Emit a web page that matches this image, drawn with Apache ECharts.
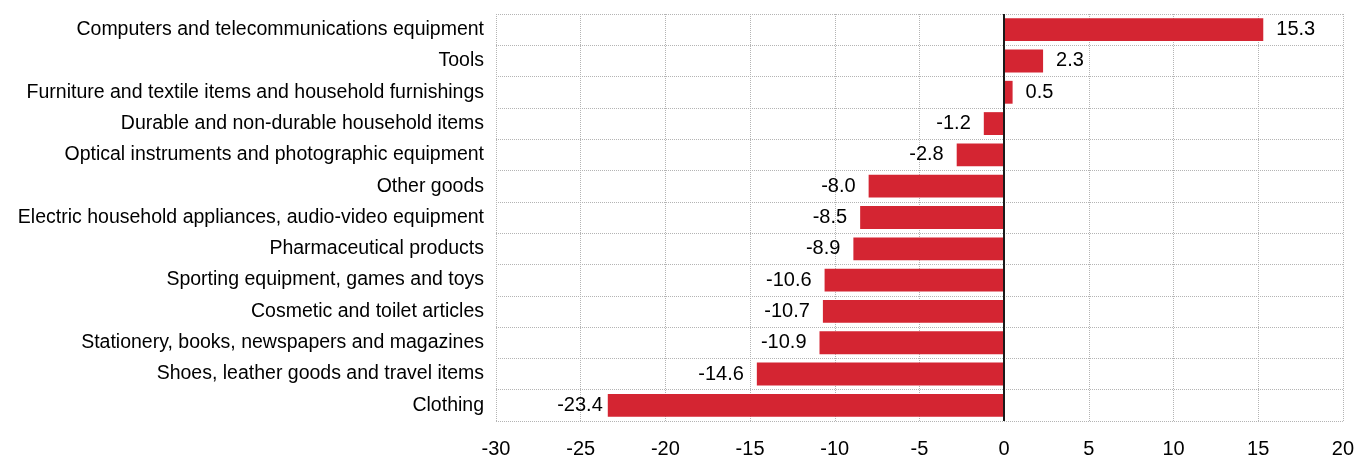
<!DOCTYPE html>
<html><head><meta charset="utf-8">
<script src="https://cdn.jsdelivr.net/npm/echarts@6/dist/echarts.min.js"></script>
<style>html,body{margin:0;padding:0;background:#fff}#c{width:1357px;height:459px}</style>
</head><body><div id="c"></div>
<script>
const categories = [
  "Computers and telecommunications equipment",
  "Tools",
  "Furniture and textile items and household furnishings",
  "Durable and non-durable household items",
  "Optical instruments and photographic equipment",
  "Other goods",
  "Electric household appliances, audio-video equipment",
  "Pharmaceutical products",
  "Sporting equipment, games and toys",
  "Cosmetic and toilet articles",
  "Stationery, books, newspapers and magazines",
  "Shoes, leather goods and travel items",
  "Clothing"
];
const values = [15.3, 2.3, 0.5, -1.2, -2.8, -8.0, -8.5, -8.9, -10.6, -10.7, -10.9, -14.6, -23.4];
const FONT = "'Liberation Sans', Arial, sans-serif";
const chart = echarts.init(document.getElementById('c'));
const grid = {type:'dotted', color:'#b4b4b4', width:1};
chart.setOption({
  animation:false,
  grid:{left:496, right:14, top:14, bottom:38, containLabel:false},
  xAxis:{type:'value', min:-30, max:20, interval:5,
    axisLine:{show:false}, axisTick:{show:false},
    splitLine:{show:true, lineStyle:grid},
    axisLabel:{fontFamily:FONT, fontSize:20, color:'#000', margin:18}},
  yAxis:{type:'category', data:categories, inverse:true,
    axisLine:{show:false}, axisTick:{show:false},
    splitLine:{show:true, lineStyle:grid},
    axisLabel:{fontFamily:FONT, fontSize:19.5, color:'#000', margin:12}},
  series:[{type:'bar', barCategoryGap:'27%',
    itemStyle:{color:'#D42532'},
    data: values.map((v,i)=>({value:v, label:{position: v<0?'left':'right', distance: (i===values.length-1)?5:13}})),
    label:{show:true, fontFamily:FONT, fontSize:20, color:'#000',
      formatter:p=>p.value.toFixed(1)},
    markLine:{silent:true, symbol:'none', label:{show:false},
      lineStyle:{color:'#1a1a1a', type:'solid', width:2},
      data:[{xAxis:0}]}
  }]
});
</script></body></html>
